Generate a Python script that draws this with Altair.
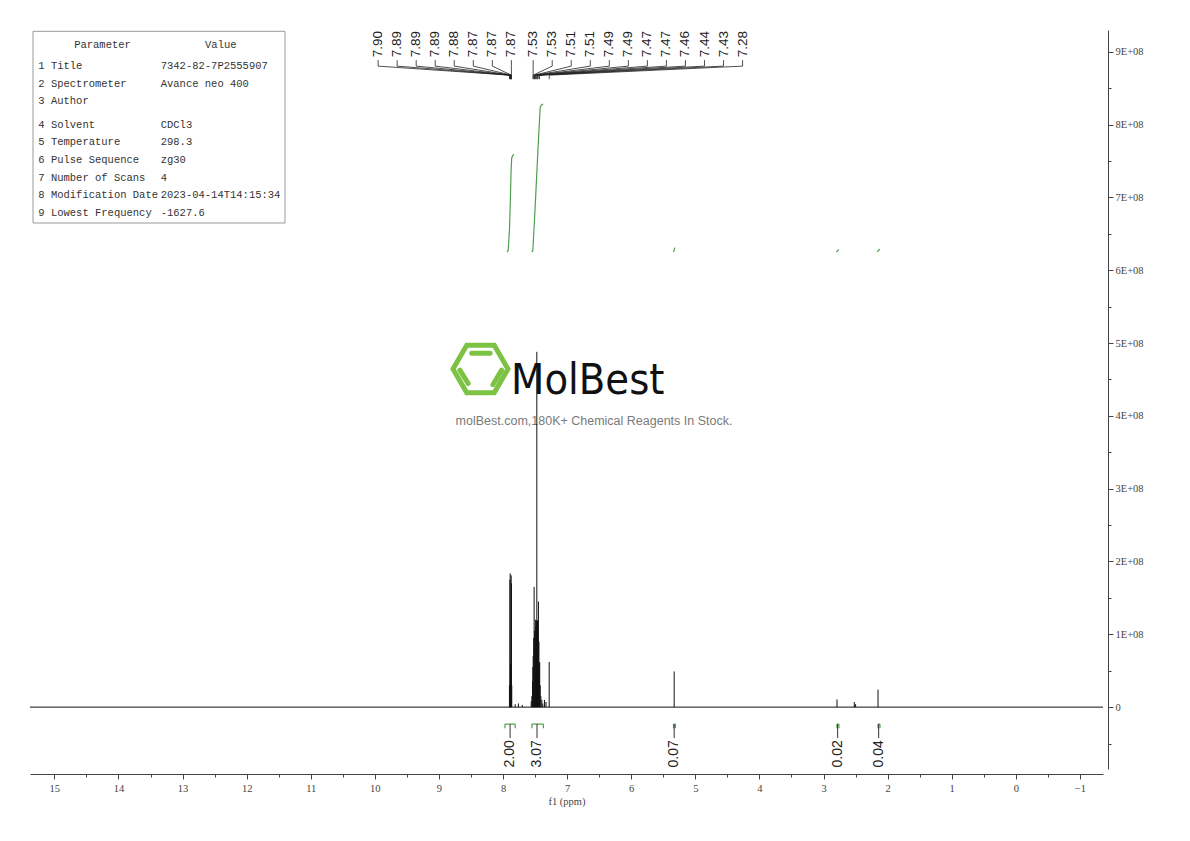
import altair as alt
import pandas as pd

# ---------------- data ----------------
X_DOMAIN = [-1.36, 15.38]          # ppm (drawn reversed)
Y_DOMAIN = [-0.85e8, 9.3e8]        # intensity

x_major = list(range(-1, 16))
x_minor = [v + 0.5 for v in range(-1, 15)]
y_major = [i * 1e8 for i in range(0, 10)]
y_minor = [(i + 0.5) * 1e8 for i in range(-1, 9)]

# spectrum peaks (ppm, height)
doublet_ppm = [7.900, 7.893, 7.889, 7.884, 7.878, 7.873, 7.869, 7.864]
doublet_h = [0.30e8, 1.75e8, 1.836e8, 0.60e8, 0.45e8, 1.81e8, 1.70e8, 0.30e8]
hump_ppm = [7.81, 7.76, 7.70]
hump_h = [0.04e8, 0.05e8, 0.03e8]
multi_ppm = [7.560, 7.550, 7.540, 7.535, 7.530, 7.522, 7.515, 7.508, 7.500, 7.495,
             7.488, 7.482, 7.478, 7.473, 7.468, 7.462, 7.455, 7.448, 7.440, 7.433,
             7.428, 7.420, 7.410, 7.395, 7.380]
multi_h = [0.08e8, 0.15e8, 0.35e8, 0.55e8, 0.70e8, 0.95e8, 1.65e8, 1.05e8, 0.80e8, 1.20e8,
           1.10e8, 1.00e8, 1.19e8, 4.88e8, 1.19e8, 1.19e8, 1.00e8, 1.45e8, 0.90e8, 0.60e8,
           0.62e8, 0.30e8, 0.15e8, 0.10e8, 0.05e8]
other_ppm = [7.354, 7.330, 7.280, 5.33, 2.79, 2.52, 2.50, 2.15]
other_h = [0.10e8, 0.07e8, 0.62e8, 0.49e8, 0.105e8, 0.07e8, 0.04e8, 0.24e8]

# peak picking labels
label_group1 = ["7.90", "7.89", "7.89", "7.89", "7.88", "7.87", "7.87", "7.87"]
label_group2 = ["7.53", "7.53", "7.51", "7.51", "7.49", "7.49", "7.47", "7.47",
                "7.46", "7.44", "7.43", "7.28"]
LABEL_STEP = 0.297

# integrations
int_labels = ["2.00", "3.07", "0.07", "0.02", "0.04"]
int_start = [7.97, 7.55, 5.34, 2.79, 2.15]
int_end = [7.81, 7.37, 5.31, 2.76, 2.12]
int_center = [7.89, 7.47, 5.33, 2.78, 2.14]

int_curve_ppm = [
    [7.94, 7.92, 7.90, 7.885, 7.875, 7.865, 7.85, 7.83],
    [7.555, 7.535, 7.50, 7.475, 7.45, 7.42, 7.40, 7.375],
    [5.34, 5.33, 5.32],
    [2.80, 2.78, 2.76],
    [2.16, 2.14, 2.12],
]
int_curve_val = [
    [6.25e8, 6.27e8, 6.55e8, 7.00e8, 7.35e8, 7.54e8, 7.575e8, 7.59e8],
    [6.25e8, 6.27e8, 6.85e8, 7.30e8, 7.75e8, 8.245e8, 8.27e8, 8.285e8],
    [6.25e8, 6.28e8, 6.31e8],
    [6.25e8, 6.27e8, 6.28e8],
    [6.25e8, 6.28e8, 6.29e8],
]

# parameter table
param_header = ["Parameter", "Value"]
param_names = ["1 Title", "2 Spectrometer", "3 Author", "4 Solvent", "5 Temperature",
               "6 Pulse Sequence", "7 Number of Scans", "8 Modification Date",
               "9 Lowest Frequency"]
param_values = ["7342-82-7P2555907", "Avance neo 400", "", "CDCl3", "298.3", "zg30", "4",
                "2023-04-14T14:15:34", "-1627.6"]

# ---------------- layout constants ----------------
W, H = 1073, 739
LABEL_Y = 8.927e8
LEAD_Y = [8.886e8, 8.804e8, 8.68e8, 8.625e8]
BRACKET_Y = -0.233e8
BRACKET_TICK = -0.29e8
BRACKET_LEAD = -0.425e8
INT_TEXT_Y = -0.455e8
GREEN = "#4f9f4f"
AXC = "#444444"

xs = alt.Scale(domain=X_DOMAIN, reverse=True, nice=False, zero=False)
ys = alt.Scale(domain=Y_DOMAIN, nice=False, zero=False)


def X(field, axis=None):
    return alt.X(field, type="quantitative", scale=xs, axis=axis)


def Y(field, axis=None):
    return alt.Y(field, type="quantitative", scale=ys, axis=axis)


# ---------------- tables ----------------
peaks = pd.DataFrame({
    "ppm": doublet_ppm + hump_ppm + multi_ppm + other_ppm,
    "h": doublet_h + hump_h + multi_h + other_h,
})
peaks["base"] = 0.0

baseline_df = pd.DataFrame({"x1": [X_DOMAIN[1]], "x2": [X_DOMAIN[0]], "y": [0.0]})

n1 = len(label_group1)
lab_rows = []
lead_rows = []
for i, t in enumerate(label_group1):
    lp = float(label_group1[-1]) + (n1 - 1 - i) * LABEL_STEP
    lab_rows.append({"lp": lp, "t": t, "y": LABEL_Y})
    pk = float(t)
    for k, (xx, yy) in enumerate([(lp, LEAD_Y[0]), (lp, LEAD_Y[1]), (pk, LEAD_Y[2]), (pk, LEAD_Y[3])]):
        lead_rows.append({"id": f"a{i}", "o": k, "x": xx, "y": yy})
for i, t in enumerate(label_group2):
    lp = float(label_group2[0]) - i * LABEL_STEP
    lab_rows.append({"lp": lp, "t": t, "y": LABEL_Y})
    pk = float(t)
    for k, (xx, yy) in enumerate([(lp, LEAD_Y[0]), (lp, LEAD_Y[1]), (pk, LEAD_Y[2]), (pk, LEAD_Y[3])]):
        lead_rows.append({"id": f"b{i}", "o": k, "x": xx, "y": yy})
labels_df = pd.DataFrame(lab_rows)
leads_df = pd.DataFrame(lead_rows)

curve_rows = []
for j, (pp, vv) in enumerate(zip(int_curve_ppm, int_curve_val)):
    for k, (p, v) in enumerate(zip(pp, vv)):
        curve_rows.append({"id": j, "o": k, "x": p, "y": v})
curves_df = pd.DataFrame(curve_rows)

ints_df = pd.DataFrame({
    "s": int_start, "e": int_end, "c": int_center, "t": int_labels,
    "by": [BRACKET_Y] * len(int_labels), "bt": [BRACKET_TICK] * len(int_labels),
    "bl": [BRACKET_LEAD] * len(int_labels), "ty": [INT_TEXT_Y] * len(int_labels),
})

one = pd.DataFrame({"a": [0]})

# ---------------- layers ----------------
x_axis_major = alt.Axis(values=x_major, format="d", orient="bottom", offset=5, tickSize=5,
                        labelPadding=4, labelFont="Liberation Serif", labelFontSize=10.5,
                        labelColor=AXC, domainColor=AXC, tickColor=AXC, grid=False,
                        title="f1 (ppm)", titleFont="Liberation Serif", titleFontSize=10.5,
                        titleFontWeight="normal", titleColor=AXC, titlePadding=3)
x_axis_minor = alt.Axis(values=x_minor, orient="bottom", offset=5, tickSize=3, labels=False,
                        domain=False, tickColor=AXC, grid=False, title=None)
y_axis_major = alt.Axis(values=y_major, orient="right", offset=5, tickSize=5, labelPadding=2,
                        labelExpr="datum.value == 0 ? '0' : format(datum.value / 1e8, 'd') + 'E+08'",
                        labelFont="Liberation Serif", labelFontSize=10.5, labelColor=AXC,
                        domainColor=AXC, tickColor=AXC, grid=False, title=None)
y_axis_minor = alt.Axis(values=y_minor, orient="right", offset=5, tickSize=3, labels=False,
                        domain=False, tickColor=AXC, grid=False, title=None)

HEX = "M-1,0L-0.5,-0.866L0.5,-0.866L1,0L0.5,0.866L-0.5,0.866Z"
BENZ = "M-0.32,-0.57L0.35,-0.57M-0.75,0.04L-0.45,0.52M0.77,0.04L0.45,0.57"

wm_hex = alt.Chart(one).mark_point(shape=HEX, size=3025, filled=False, stroke="#7cc243",
                                   strokeWidth=5, opacity=1).encode(
    x=alt.value(450.5), y=alt.value(339))
wm_benz = alt.Chart(one).mark_point(shape=BENZ, size=3025, filled=False, stroke="#7cc243",
                                    strokeWidth=5, strokeCap="round", opacity=1).encode(
    x=alt.value(450.5), y=alt.value(339))
wm_text = alt.Chart(one).mark_text(
    text="MolBest", font="'Liberation Sans Narrow', 'DejaVu Sans Condensed', 'Roboto Condensed', 'Liberation Sans'",
    fontSize=43, align="left", baseline="alphabetic", color="#111111").encode(
    x=alt.value(481), y=alt.value(363.5))
wm_sub = alt.Chart(one).mark_text(
    text="molBest.com,180K+ Chemical Reagents In Stock.", font="Liberation Sans",
    fontSize=12.5, align="center", baseline="middle", color="#7a7a7a").encode(
    x=alt.value(564), y=alt.value(391))

tbl_box = alt.Chart(one).mark_rect(fill="white", stroke="#999999", strokeWidth=1).encode(
    x=alt.value(3), x2=alt.value(255), y=alt.value(1.3), y2=alt.value(193))
TF = "Liberation Mono"
TS = 10.5
TC = "#333333"
tbl_h1 = alt.Chart(one).mark_text(text=param_header[0], font=TF, fontSize=TS, color=TC,
                                  align="center", baseline="alphabetic").encode(
    x=alt.value(72.5), y=alt.value(17.5))
tbl_h2 = alt.Chart(one).mark_text(text=param_header[1], font=TF, fontSize=TS, color=TC,
                                  align="center", baseline="alphabetic").encode(
    x=alt.value(190.8), y=alt.value(17.5))
tbl_n1 = alt.Chart(one).mark_text(text="\n".join(param_names[:3]), lineBreak="\n", lineHeight=17.7,
                                  font=TF, fontSize=TS, color=TC, align="left",
                                  baseline="alphabetic").encode(x=alt.value(8.3), y=alt.value(39.1))
tbl_n2 = alt.Chart(one).mark_text(text="\n".join(param_names[3:]), lineBreak="\n", lineHeight=17.7,
                                  font=TF, fontSize=TS, color=TC, align="left",
                                  baseline="alphabetic").encode(x=alt.value(8.3), y=alt.value(97.5))
tbl_v1 = alt.Chart(one).mark_text(text="\n".join(v if v else " " for v in param_values[:3]),
                                  lineBreak="\n", lineHeight=17.7,
                                  font=TF, fontSize=TS, color=TC, align="left",
                                  baseline="alphabetic").encode(x=alt.value(130.7), y=alt.value(39.1))
tbl_v2 = alt.Chart(one).mark_text(text="\n".join(param_values[3:]), lineBreak="\n", lineHeight=17.7,
                                  font=TF, fontSize=TS, color=TC, align="left",
                                  baseline="alphabetic").encode(x=alt.value(130.7), y=alt.value(97.5))

base_line = alt.Chart(baseline_df).mark_rule(color="#111111", strokeWidth=1).encode(
    x=X("x1:Q", x_axis_minor), x2="x2:Q", y=Y("y:Q", y_axis_minor))

peak_rules = alt.Chart(peaks).mark_rule(color="#111111", strokeWidth=1).encode(
    x=X("ppm:Q", x_axis_major), y=Y("h:Q", y_axis_major), y2="base:Q")

peak_text = alt.Chart(labels_df).mark_text(
    angle=270, align="left", baseline="middle", font="Liberation Sans", fontSize=13.5,
    color="#222222").encode(x=X("lp:Q"), y=Y("y:Q"), text="t:N")

peak_leads = alt.Chart(leads_df).mark_line(color="#222222", strokeWidth=0.8).encode(
    x=X("x:Q"), y=Y("y:Q"), detail="id:N", order="o:Q")

int_curves = alt.Chart(curves_df).mark_line(color=GREEN, strokeWidth=1.2).encode(
    x=X("x:Q"), y=Y("y:Q"), detail="id:N", order="o:Q")

br_h = alt.Chart(ints_df).mark_rule(color=GREEN, strokeWidth=1.2).encode(
    x=X("s:Q"), x2="e:Q", y=Y("by:Q"))
br_l = alt.Chart(ints_df).mark_rule(color=GREEN, strokeWidth=1.2).encode(
    x=X("s:Q"), y=Y("by:Q"), y2="bt:Q")
br_r = alt.Chart(ints_df).mark_rule(color=GREEN, strokeWidth=1.2).encode(
    x=X("e:Q"), y=Y("by:Q"), y2="bt:Q")
br_c = alt.Chart(ints_df).mark_rule(color="#333333", strokeWidth=1).encode(
    x=X("c:Q"), y=Y("by:Q"), y2="bl:Q")
int_text = alt.Chart(ints_df).mark_text(
    angle=270, align="right", baseline="middle", font="Liberation Sans", fontSize=14,
    color="#222222").encode(x=X("c:Q"), y=Y("ty:Q"), text="t:N")

chart = alt.layer(
    wm_hex, wm_benz, wm_text, wm_sub,
    base_line, peak_rules, peak_leads, peak_text, int_curves,
    br_h, br_l, br_r, br_c, int_text,
    tbl_box, tbl_h1, tbl_h2, tbl_n1, tbl_n2, tbl_v1, tbl_v2,
).resolve_axis(x="independent", y="independent").properties(
    width=W, height=H,
    autosize=alt.AutoSizeParams(type="none"),
    padding={"left": 22, "top": 22, "right": 60, "bottom": 50},
    background="white",
).configure_view(stroke=None)

chart.save("out.html", embed_options={"renderer": "svg", "actions": False})
